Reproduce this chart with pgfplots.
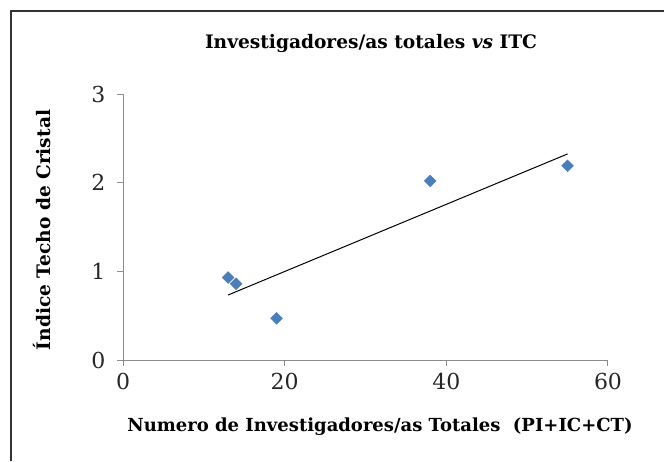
\documentclass[border=0pt]{standalone}
\usepackage{pgfplots}
\pgfplotsset{compat=1.18}
\usepackage{fontspec}
\setmainfont{DejaVu Serif}
\definecolor{mblue}{HTML}{4A7EBB}
\definecolor{axgray}{HTML}{8C8C8C}
\begin{document}
\begin{tikzpicture}[x=1pt,y=1pt]
\useasboundingbox (0,0) rectangle (664,461);
\draw[line width=1.6pt,black!80] (11,0) -- (11,450) -- (664,450);
\begin{axis}[
  at={(123pt,101pt)}, anchor=origin,
  scale only axis, width=485pt, height=266pt,
  xmin=0, xmax=60, ymin=0, ymax=3,
  xtick={0,20,40,60}, ytick={0,1,2,3},
  axis x line=bottom, axis y line=left,
  axis line style={axgray, line width=1pt, -},
  tick style={axgray, line width=1pt},
  major tick length=6pt,
  tick align=outside,
  /pgf/number format/assume math mode=true,
  ticklabel style={font=\fontsize{22}{26}\selectfont, text=black!85},
  xticklabel style={yshift=-4pt},
  yticklabel style={xshift=-8pt},
  clip=false,
]
\addplot[only marks, mark=square*, mark size=4.2pt, mark options={rotate=45, fill=mblue, draw=mblue}]
  coordinates {(13,0.93) (14,0.86) (19,0.47) (38,2.02) (55,2.19)};
\addplot[black, line width=1pt] coordinates {(13,0.733) (55,2.324)};
\end{axis}
\node[font=\bfseries\fontsize{18.6}{22}\selectfont] at (371,417) {Investigadores/as totales \textit{vs} ITC};
\node[font=\bfseries\fontsize{18.6}{22}\selectfont, rotate=90] at (42,231) {Índice Techo de Cristal};
\node[font=\bfseries\fontsize{18}{22}\selectfont] at (380,34) {Numero de Investigadores/as Totales\ \ (PI+IC+CT)};
\end{tikzpicture}
\end{document}
